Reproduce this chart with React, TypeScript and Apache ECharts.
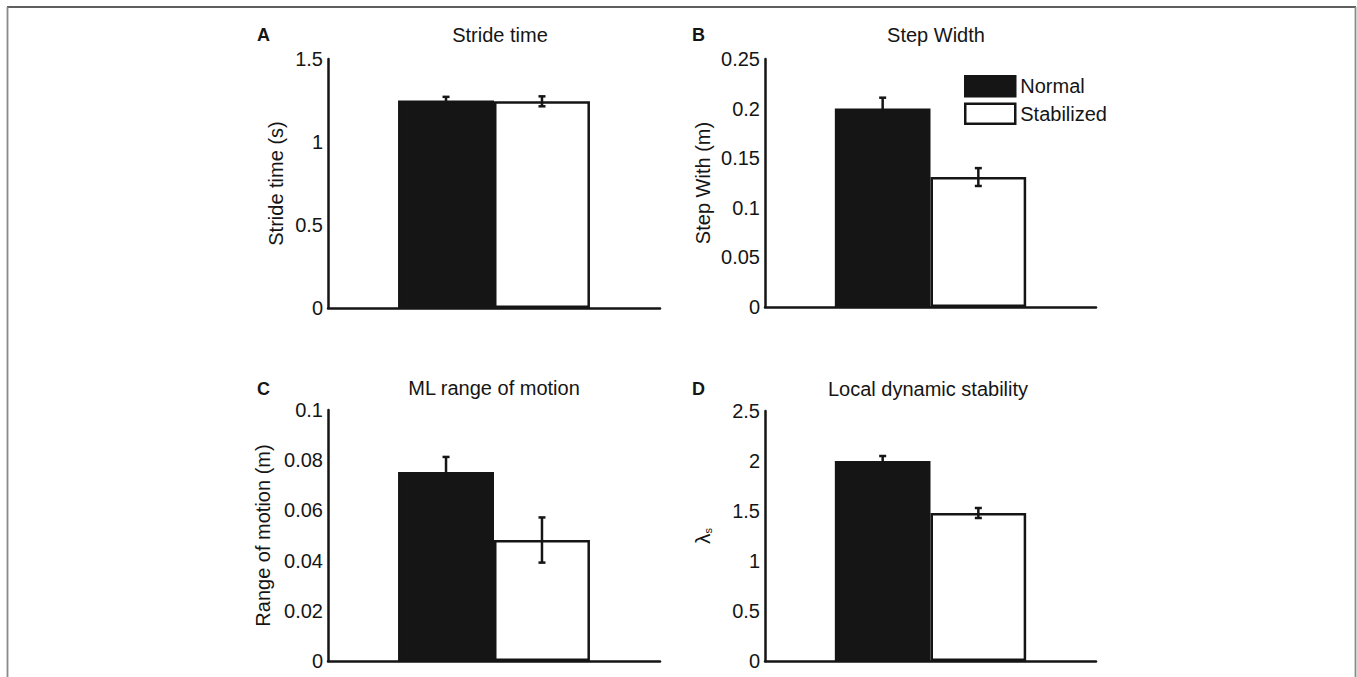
import React, { useEffect, useRef } from "react";
import * as echarts from "echarts";

// ---- data ----
const groups = ["Normal", "Stabilized"];
const panelLetters = ["A", "B", "C", "D"];
const panelTitles = ["Stride time", "Step Width", "ML range of motion", "Local dynamic stability"];
const yNames = ["Stride time (s)", "Step With (m)", "Range of motion (m)", "{l|λ}{s|s}"];
const yMax = [1.5, 0.25, 0.1, 2.5];
const yInterval = [0.5, 0.05, 0.02, 0.5];
const normalMeans = [1.25, 0.2, 0.0753, 2.0];
const normalErr = [0.022, 0.011, 0.006, 0.05];
const stabilizedMeans = [1.245, 0.131, 0.0482, 1.48];
const stabilizedErr = [0.03, 0.009, 0.009, 0.05];

// ---- layout ----
const INK = "#151515";
const FONT = "'Liberation Sans', Arial, Helvetica, sans-serif";
const FS = 20;
const layout = [
  { left: 328, top: 59, width: 332, height: 249, nameGap: 42, title: [500, 35], letter: [257, 35] },
  { left: 765, top: 59, width: 331, height: 248, nameGap: 52, title: [936, 35], letter: [692, 35] },
  { left: 328, top: 410, width: 332, height: 251, nameGap: 55, title: [494, 388], letter: [257, 389] },
  { left: 765, top: 411, width: 331, height: 250, nameGap: 52, title: [928, 389], letter: [692, 389] },
];

export default function App() {
  const ref = useRef<HTMLDivElement>(null);
  useEffect(() => {
    if (!ref.current) return;
    const chart = echarts.init(ref.current, null, { renderer: "svg" });

    const grid: any[] = [];
    const xAxis: any[] = [];
    const yAxis: any[] = [];
    const series: any[] = [];
    const graphic: any[] = [];

    layout.forEach((L, i) => {
      grid.push({ left: L.left, top: L.top, width: L.width, height: L.height, containLabel: false });
      xAxis.push({
        type: "value",
        gridIndex: i,
        min: -1.23,
        max: 2.23,
        axisLine: { show: true, onZero: false, lineStyle: { color: INK, width: 2.5 } },
        axisTick: { show: false },
        axisLabel: { show: false },
        splitLine: { show: false },
      });
      yAxis.push({
        type: "value",
        gridIndex: i,
        min: 0,
        max: yMax[i],
        interval: yInterval[i],
        name: yNames[i],
        nameLocation: "middle",
        nameRotate: 90,
        nameGap: L.nameGap,
        nameTextStyle: {
          color: INK,
          fontSize: FS,
          fontFamily: FONT,
          rich: {
            l: { fontSize: 21, fontFamily: FONT, color: INK },
            s: { fontSize: 11, fontFamily: FONT, color: INK, verticalAlign: "bottom", padding: [8, 0, 0, 0] },
          },
        },
        axisLine: { show: true, onZero: false, lineStyle: { color: INK, width: 2.5 } },
        axisTick: { show: false },
        axisLabel: { color: INK, fontSize: FS, fontFamily: FONT, margin: 5 },
        splitLine: { show: false },
      });
      const means = [normalMeans[i], stabilizedMeans[i]];
      const errs = [normalErr[i], stabilizedErr[i]];
      groups.forEach((g, k) => {
        series.push({
          type: "bar",
          name: g,
          xAxisIndex: i,
          yAxisIndex: i,
          barWidth: "100%",
          barGap: "-100%",
          data: [[k, means[k]]],
          itemStyle: { color: k === 0 ? INK : "#ffffff", borderColor: INK, borderWidth: 2.5 },
          z: 2,
        });
      });
      series.push({
        type: "custom",
        name: "error",
        xAxisIndex: i,
        yAxisIndex: i,
        z: 5,
        encode: { x: 0, y: 1 },
        data: means.map((m, k) => [k, m, errs[k]]),
        renderItem: (params: any, api: any) => {
          const x = api.value(0);
          const m = api.value(1);
          const e = api.value(2);
          const top = api.coord([x, m + e]);
          const bot = api.coord([x, m - e]);
          const cw = 3.5;
          const style = { stroke: INK, lineWidth: 2.5, fill: null };
          return {
            type: "group",
            children: [
              { type: "line", shape: { x1: top[0], y1: top[1], x2: bot[0], y2: bot[1] }, style },
              { type: "line", shape: { x1: top[0] - cw, y1: top[1], x2: top[0] + cw, y2: top[1] }, style },
              { type: "line", shape: { x1: bot[0] - cw, y1: bot[1], x2: bot[0] + cw, y2: bot[1] }, style },
            ],
          };
        },
      });
      graphic.push({
        type: "text",
        x: L.title[0],
        y: L.title[1],
        style: { text: panelTitles[i], fill: INK, font: `${FS}px ${FONT}`, textAlign: "center", textVerticalAlign: "middle" },
      });
      graphic.push({
        type: "text",
        x: L.letter[0],
        y: L.letter[1],
        style: { text: panelLetters[i], fill: INK, font: `bold 18px ${FONT}`, textAlign: "left", textVerticalAlign: "middle" },
      });
    });

    // frame
    graphic.push({ type: "line", shape: { x1: 7, y1: 7, x2: 1356, y2: 7 }, style: { stroke: "#2a2a2a", lineWidth: 1.5 } });
    graphic.push({ type: "line", shape: { x1: 7.5, y1: 7, x2: 7.5, y2: 677 }, style: { stroke: "#8a8a8a", lineWidth: 1.8 } });
    graphic.push({ type: "line", shape: { x1: 1355.5, y1: 7, x2: 1355.5, y2: 677 }, style: { stroke: "#8a8a8a", lineWidth: 1.8 } });

    chart.setOption({
      animation: false,
      backgroundColor: "#ffffff",
      textStyle: { fontFamily: FONT },
      grid,
      xAxis,
      yAxis,
      series,
      graphic,
      legend: {
        left: 964,
        top: 75,
        orient: "vertical",
        padding: 0,
        itemGap: 5,
        itemWidth: 50,
        itemHeight: 20,
        icon: "rect",
        selectedMode: false,
        textStyle: { color: INK, fontSize: FS, fontFamily: FONT },
        data: [
          { name: "Normal", itemStyle: { color: INK, borderColor: INK, borderWidth: 2.5 } },
          { name: "Stabilized", itemStyle: { color: "#ffffff", borderColor: INK, borderWidth: 2.5 } },
        ],
      },
    });
    return () => chart.dispose();
  }, []);
  return (
    <div
      ref={ref}
      style={{ position: "absolute", left: 0, top: 0, width: 1357, height: 677, background: "#fff" }}
    />
  );
}
